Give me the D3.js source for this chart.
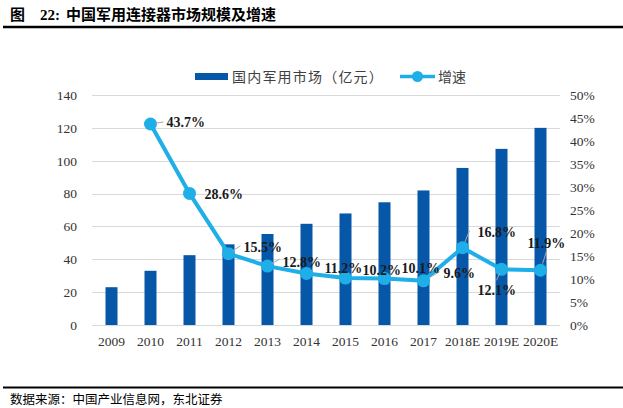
<!DOCTYPE html>
<html><head><meta charset="utf-8">
<script src="https://cdn.jsdelivr.net/npm/d3@7/dist/d3.min.js"></script>
<style>body{margin:0;background:#fff;}svg{display:block;}</style>
</head><body>
<script>
const categories = ["2009","2010","2011","2012","2013","2014","2015","2016","2017","2018E","2019E","2020E"];
const marketValues = [23.0,33.0,42.5,49.1,55.4,61.6,67.9,74.7,81.9,95.6,107.2,120.0];
const growthCategories = ["2010","2011","2012","2013","2014","2015","2016","2017","2018E","2019E","2020E"];
const growthValues = [43.7,28.6,15.5,12.8,11.2,10.2,10.1,9.6,16.8,12.1,11.9];
const leftTicks = [0,20,40,60,80,100,120,140];
const rightTicks = [0,5,10,15,20,25,30,35,40,45,50];
// label offsets (dx,dy from point) for data labels
const labelOffsets = [[16,-2],[15,1],[15,-7],[15,-4],[18,-5],[17,-8],[17,-10],[20,-8],[15,-16],[-24,21],[-13,-27]];
const leaderOffsets = [[13,-2],[0,0],[12,-8],[12,-7],[0,0],[0,0],[0,0],[16,-9],[7,-17],[-5,11],[6,-19]];

const W=623,H=408;
const svg=d3.select("body").append("svg").attr("width",W).attr("height",H);
const serif='"Liberation Serif","Times New Roman",serif';
const cjk='"Noto Sans CJK SC","Noto Sans",sans-serif';

// title
const t=svg.append("text").attr("x",10).attr("y",20).attr("font-family",cjk).attr("font-weight","bold").attr("font-size",15).attr("fill","#000");
t.append("tspan").text("图");
t.append("tspan").attr("x",40).attr("font-family",serif).text("22:");
t.append("tspan").attr("x",66).text("中国军用连接器市场规模及增速");
svg.append("line").attr("x1",3).attr("x2",623).attr("y1",27).attr("y2",27).attr("stroke","#000").attr("stroke-width",2.5);

const x=d3.scaleBand().domain(categories).range([92,560]);
const yL=d3.scaleLinear().domain([0,140]).range([325,95]);
const yR=d3.scaleLinear().domain([0,50]).range([325,95]);

// gridlines
svg.append("g").selectAll("line").data(leftTicks).join("line")
  .attr("x1",92).attr("x2",560).attr("y1",d=>Math.round(yL(d))+0.5).attr("y2",d=>Math.round(yL(d))+0.5)
  .attr("stroke","#d9d9d9").attr("stroke-width",1);

// axes
const axL=d3.axisLeft(yL).tickValues(leftTicks).tickSize(0).tickPadding(0);
const gL=svg.append("g").attr("transform","translate(77,0)").call(axL);
const axR=d3.axisRight(yR).tickValues(rightTicks).tickSize(0).tickPadding(0).tickFormat(d=>d+"%");
const gR=svg.append("g").attr("transform","translate(570,0)").call(axR);
const axB=d3.axisBottom(x).tickSize(0).tickPadding(0);
const gB=svg.append("g").attr("transform","translate(0,336)").call(axB);
[gL,gR,gB].forEach(g=>{g.select(".domain").remove();g.selectAll("text").attr("font-family",serif).attr("font-size",13.5).attr("fill","#333");});

// bars
const bw=12;
svg.append("g").selectAll("rect").data(marketValues).join("rect")
  .attr("x",(d,i)=>x(categories[i])+x.bandwidth()/2-bw/2).attr("width",bw)
  .attr("y",d=>yL(d)).attr("height",d=>yL(0)-yL(d)).attr("fill","#0757a8");

// line
const cx=c=>x(c)+x.bandwidth()/2;
const pts=growthValues.map((v,i)=>[cx(growthCategories[i]),yR(v)]);
svg.append("path").attr("d",d3.line()(pts)).attr("fill","none").attr("stroke","#1eaee8").attr("stroke-width",4).attr("stroke-linejoin","round");
svg.append("g").selectAll("circle").data(pts).join("circle").attr("cx",d=>d[0]).attr("cy",d=>d[1]).attr("r",6.5).attr("fill","#1eaee8");

// leader lines
svg.append("g").selectAll("line").data(pts).join("line")
  .attr("x1",(d,i)=>d[0]+leaderOffsets[i][0]*0.35).attr("y1",(d,i)=>d[1]+leaderOffsets[i][1]*0.35)
  .attr("x2",(d,i)=>d[0]+leaderOffsets[i][0]).attr("y2",(d,i)=>d[1]+leaderOffsets[i][1])
  .attr("stroke","#a6a6a6").attr("stroke-width",1).attr("display",(d,i)=>leaderOffsets[i][0]||leaderOffsets[i][1]?null:"none");

// labels
svg.append("g").selectAll("text").data(growthValues).join("text")
  .attr("x",(d,i)=>pts[i][0]+labelOffsets[i][0]).attr("y",(d,i)=>pts[i][1]+labelOffsets[i][1])
  .attr("dy","0.35em").attr("font-family",serif).attr("font-weight","bold").attr("font-size",14).attr("fill","#1a1a1a")
  .text(d=>d.toFixed(1)+"%");

// legend
const lg=svg.append("g");
lg.append("rect").attr("x",195).attr("y",73).attr("width",33).attr("height",7).attr("fill","#0757a8");
lg.append("text").attr("x",232).attr("y",77).attr("dy","0.35em").attr("font-family",cjk).attr("font-size",14).attr("letter-spacing",1.2).attr("fill","#404040").text("国内军用市场（亿元）");
lg.append("line").attr("x1",400).attr("x2",435).attr("y1",76.5).attr("y2",76.5).attr("stroke","#1eaee8").attr("stroke-width",3.5);
lg.append("circle").attr("cx",417.5).attr("cy",76.5).attr("r",5.5).attr("fill","#1eaee8");
lg.append("text").attr("x",438).attr("y",77).attr("dy","0.35em").attr("font-family",cjk).attr("font-size",14).attr("fill","#404040").text("增速");

// bottom
svg.append("line").attr("x1",3).attr("x2",623).attr("y1",387.5).attr("y2",387.5).attr("stroke","#000").attr("stroke-width",2);
svg.append("text").attr("x",10).attr("y",404).attr("font-family",cjk).attr("font-size",12.5).attr("fill","#000").text("数据来源：中国产业信息网，东北证券");
</script>
</body></html>
